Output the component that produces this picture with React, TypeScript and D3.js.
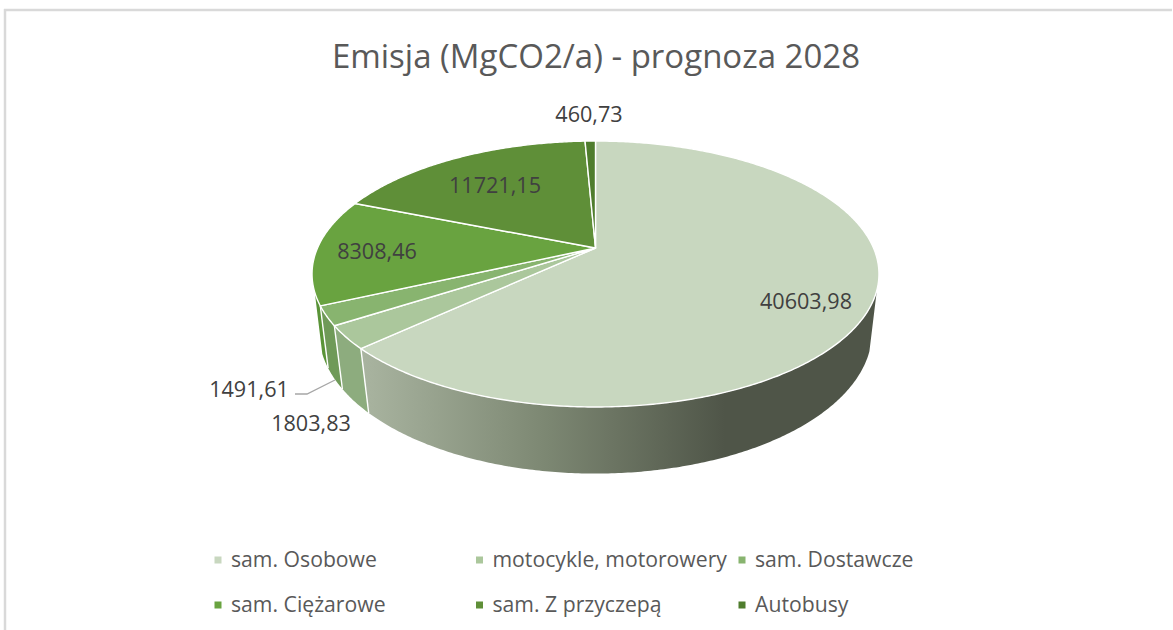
import * as d3 from "d3";

const categories = ["sam. Osobowe", "motocykle, motorowery", "sam. Dostawcze", "sam. Ciężarowe", "sam. Z przyczepą", "Autobusy"];
const values = [40603.98, 1803.83, 1491.61, 8308.46, 11721.15, 460.73];
const valueLabels = ["40603,98", "1803,83", "1491,61", "8308,46", "11721,15", "460,73"];
const colors = ["#c8d7bf", "#abc79c", "#88b46f", "#69a340", "#5f8f38", "#4f7d2d"];
const wallColors = ["url(#wallShade)", "#8dac7e", "#6f9a58", "#5a9438", "#4f7d2d", "#4f7d2d"];
const labelPos = [[806, 301], [311, 423], [249, 389], [377, 251], [495, 185], [589, 114]];
const legendX = [218, 479.5, 742];
const legendY = [560, 605];

const width = 1173;
const height = 630;

// Excel's 3D pie is in perspective, so the apex is not the centre of the ellipse
const topDisk = { a: 278, b: 127.9, k: -0.1955, y0: 248 };
const bottomDisk = { a: 272, b: 137, k: -0.18, y0: 306.5 };
const cx = 595.5;
const wallFrom = (108 * Math.PI) / 180;
const wallTo = (251 * Math.PI) / 180;

const project = (disk: typeof topDisk, angle: number, r = 1): [number, number] => {
  const x = r * Math.sin(angle);
  const y = -r * Math.cos(angle);
  const w = 1 + disk.k * y;
  return [cx + (disk.a * x) / w, disk.y0 + (disk.b * y) / w];
};

const arcAngles = (start: number, end: number) => {
  const n = Math.max(2, Math.ceil((end - start) / 0.01));
  return d3.range(n + 1).map((i) => start + ((end - start) * i) / n);
};

const line = d3.line();

const slices = d3.pie<number>().sort(null)(values);

export default function App() {
  const tops = slices.map((s) => {
    const pts = arcAngles(s.startAngle, s.endAngle).map((a) => project(topDisk, a));
    return line([[cx, topDisk.y0], ...pts]) + "Z";
  });

  const walls = slices.map((s, i) => {
    const start = Math.max(s.startAngle, wallFrom);
    const end = Math.min(s.endAngle, wallTo);
    if (end <= start) return null;
    const angles = arcAngles(start, end);
    const pts = [
      ...angles.map((a) => project(topDisk, a)),
      ...angles.slice().reverse().map((a) => project(bottomDisk, a)),
    ];
    return <path key={i} d={line(pts) + "Z"} fill={wallColors[i]} />;
  });

  const separators = slices
    .map((s) => s.endAngle)
    .filter((a) => a > wallFrom && a < wallTo)
    .map((a, i) => (
      <path key={i} d={line([project(topDisk, a), project(bottomDisk, a)])!} fill="none" stroke="#fff" strokeWidth={1.4} />
    ));

  return (
    <svg width={width} height={height} style={{ position: "absolute", left: 0, top: 0, display: "block" }} fontFamily="'Open Sans', sans-serif">
      <defs>
        <linearGradient id="wallShade" gradientUnits="userSpaceOnUse" x1={362} x2={725} y1={0} y2={0}>
          <stop offset="0%" stopColor="#a9b4a0" />
          <stop offset="50%" stopColor="#7d8873" />
          <stop offset="100%" stopColor="#4f5548" />
        </linearGradient>
      </defs>
      <rect width={width} height={height} fill="#fff" />
      <line x1={5} x2={5} y1={9} y2={height} stroke="#d9d9d9" strokeWidth={2.5} />
      <line x1={4} x2={1172} y1={10} y2={10} stroke="#d9d9d9" strokeWidth={2.5} />

      <text x={596} y={68} textAnchor="middle" fontSize={33} fill="#595959">
        Emisja (MgCO2/a) - prognoza 2028
      </text>

      {walls}
      {separators}
      {tops.map((d, i) => (
        <path key={i} d={d} fill={colors[i]} stroke="#fff" strokeWidth={1.4} strokeLinejoin="round" />
      ))}

      <path d={line([[295, 394], [307, 394], [335, 380]])!} fill="none" stroke="#a6a6a6" strokeWidth={1.3} />

      {valueLabels.map((t, i) => (
        <text key={t} x={labelPos[i][0]} y={labelPos[i][1] + 7.5} textAnchor="middle" fontSize={21.6} fill="#404040">
          {t}
        </text>
      ))}

      {categories.map((c, i) => {
        const col = i % 3;
        const row = Math.floor(i / 3);
        return (
          <g key={c}>
            <rect x={legendX[col] - 3.5} y={legendY[row] - 3.5} width={7} height={7} fill={colors[i]} />
            <text x={legendX[col] + 13} y={legendY[row] + 7} fontSize={21.2} fill="#595959">
              {c}
            </text>
          </g>
        );
      })}
    </svg>
  );
}
